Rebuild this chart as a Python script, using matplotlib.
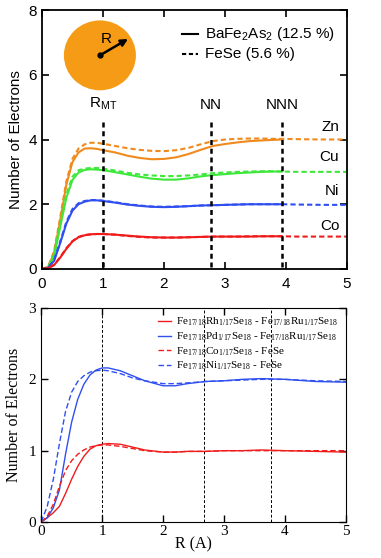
#Two panel plot of the number of electrons inside a sphere of radius R
#around the dopant atom, for BaFe2As2 / FeSe (top) and FeSe supercells (bottom)

import matplotlib.pyplot as plt
from matplotlib.patches import Ellipse

plt.rcParams["mathtext.fontset"] = "custom"
plt.rcParams["mathtext.rm"] = "Liberation Serif"
plt.rcParams["mathtext.it"] = "Liberation Serif:italic"
plt.rcParams["mathtext.sf"] = "Liberation Sans"

#Top panel data (R in Angstrom)
xSolid = [0, 0.1, 0.2, 0.3, 0.4, 0.5, 0.6, 0.7, 0.8, 0.9, 1.0, 1.2, 1.4, 1.6, 1.8,
          2.0, 2.2, 2.4, 2.6, 2.8, 3.0, 3.2, 3.4, 3.6, 3.8, 3.93]
xDash = xSolid + [4.2, 4.6, 5.0]

znSolid = [0, 0.05, 0.5, 1.5, 2.6, 3.3, 3.6, 3.72, 3.73, 3.71, 3.67, 3.6, 3.5, 3.43, 3.39,
           3.4, 3.45, 3.55, 3.68, 3.8, 3.86, 3.91, 3.95, 3.97, 3.99, 4.0]
znDash = [0, 0.07, 0.55, 1.6, 2.7, 3.4, 3.72, 3.85, 3.9, 3.9, 3.87, 3.8, 3.73, 3.68, 3.65,
          3.64, 3.67, 3.74, 3.85, 3.95, 4.0, 4.02, 4.03, 4.03, 4.02, 4.02, 4.01, 4.0, 4.0]
cuSolid = [0, 0.04, 0.4, 1.3, 2.2, 2.75, 2.98, 3.06, 3.08, 3.07, 3.05, 2.99, 2.92, 2.85, 2.79,
           2.76, 2.76, 2.8, 2.86, 2.9, 2.93, 2.96, 2.98, 3.0, 3.01, 3.01]
cuDash = [0, 0.05, 0.45, 1.4, 2.3, 2.85, 3.05, 3.1, 3.12, 3.12, 3.1, 3.04, 2.97, 2.92, 2.89,
          2.87, 2.87, 2.89, 2.92, 2.96, 2.98, 3.0, 3.01, 3.02, 3.02, 3.01, 3.0, 3.0, 3.0]
niSolid = [0, 0.03, 0.25, 0.8, 1.4, 1.8, 2.0, 2.08, 2.12, 2.12, 2.1, 2.05, 1.99, 1.95, 1.92,
           1.91, 1.92, 1.94, 1.96, 1.97, 1.98, 1.99, 2.0, 2.0, 2.0, 2.0]
niDash = [0, 0.03, 0.28, 0.85, 1.45, 1.85, 2.03, 2.1, 2.13, 2.13, 2.11, 2.06, 2.0, 1.96, 1.93,
          1.92, 1.93, 1.94, 1.96, 1.97, 1.98, 1.99, 2.0, 2.0, 2.0, 2.0, 1.99, 1.98, 1.98]
coSolid = [0, 0.02, 0.12, 0.35, 0.62, 0.85, 0.98, 1.04, 1.07, 1.08, 1.08, 1.06, 1.03, 1.0, 0.98,
           0.97, 0.97, 0.98, 0.99, 1.0, 1.0, 1.0, 1.0, 1.01, 1.01, 1.01]
coDash = [0, 0.02, 0.13, 0.37, 0.64, 0.86, 0.99, 1.05, 1.07, 1.08, 1.08, 1.06, 1.02, 0.99, 0.97,
          0.97, 0.97, 0.98, 0.99, 1.0, 1.0, 1.0, 1.01, 1.01, 1.01, 1.01, 1.0, 1.0, 1.0]

elements = ["Zn", "Cu", "Ni", "Co"]
elemY = [4.4, 3.45, 2.4, 1.33]
markers = ["R$_\\mathsf{MT}$", "NN", "NNN"]
markerX = [1.0, 2.77, 3.93]

#Bottom panel data
xB = [0, 0.1, 0.2, 0.3, 0.4, 0.5, 0.6, 0.7, 0.8, 0.9, 1.0, 1.1, 1.3, 1.5, 1.7,
      2.0, 2.2, 2.4, 2.7, 3.0, 3.3, 3.6, 4.0, 4.5, 5.0]
rhRu = [0, 0.06, 0.13, 0.22, 0.4, 0.6, 0.78, 0.92, 1.02, 1.07, 1.09, 1.1, 1.09, 1.05, 1.01,
        0.98, 0.98, 0.99, 0.99, 1.0, 1.0, 1.01, 1.0, 0.99, 0.98]
pdRu = [0, 0.06, 0.2, 0.45, 0.95, 1.4, 1.72, 1.93, 2.06, 2.13, 2.16, 2.16, 2.12, 2.05, 1.98,
        1.91, 1.91, 1.94, 1.97, 1.98, 2.0, 2.01, 2.0, 1.97, 1.96]
coFeSe = [0, 0.08, 0.25, 0.5, 0.72, 0.86, 0.95, 1.01, 1.05, 1.07, 1.08, 1.08, 1.06, 1.03, 1.0,
          0.98, 0.98, 0.99, 0.99, 1.0, 1.0, 1.0, 1.0, 1.0, 1.0]
niFeSe = [0, 0.22, 0.6, 1.1, 1.55, 1.82, 1.97, 2.05, 2.1, 2.12, 2.13, 2.12, 2.08, 2.02, 1.98,
          1.94, 1.94, 1.95, 1.97, 1.98, 1.99, 2.0, 2.0, 1.98, 1.97]
bottomLines = [1.0, 2.67, 3.77]

orange = "#f08a1c"
green = "#3ee83a"
blue = "#2f4ff0"
red = "#f01c1c"

fig = plt.figure(figsize=(3.81, 5.58), dpi=100)

#---------------- top panel ----------------
ax1 = fig.add_axes([0.110, 0.518, 0.801, 0.464])
sans = "Liberation Sans"
cols = [orange, green, blue, red]
solids = [znSolid, cuSolid, niSolid, coSolid]
dashes = [znDash, cuDash, niDash, coDash]
for c, s, d in zip(cols, solids, dashes):
    ax1.plot(xSolid, s, color=c, lw=1.5)
    ax1.plot(xDash, d, color=c, lw=1.5, dashes=(2.5, 1.5))

for x, m in zip(markerX, markers):
    ax1.plot([x, x], [0.05, 4.55], color="black", lw=1.8, dashes=(2, 1.5))
    ax1.text(x, 4.85, m, ha="center", va="bottom", fontsize=11, family=sans)

for e, y in zip(elements, elemY):
    ax1.text(4.87, y, e, ha="right", va="center", fontsize=11, family=sans)

#inset: sphere of radius R
ax1.add_patch(Ellipse((0.95, 6.6), 1.18, 2.16, color="#f59b16", lw=0))
ax1.plot([0.95], [6.6], "ko", ms=3.5)
ax1.annotate("", xy=(1.45, 7.15), xytext=(0.95, 6.6),
             arrowprops=dict(arrowstyle="-|>", color="black", lw=1.8, mutation_scale=10))
ax1.text(1.05, 7.1, "R", ha="center", va="center", fontsize=11, family=sans)

#legend drawn by hand
ax1.plot([2.3, 2.55], [7.25, 7.25], color="black", lw=1.5)
ax1.plot([2.3, 2.55], [6.65, 6.65], color="black", lw=1.5, dashes=(2, 1.3))
ax1.text(2.67, 7.25, "BaFe$_\\mathsf{2}$As$_\\mathsf{2}$ (12.5 %)", va="center",
         fontsize=11, family=sans)
ax1.text(2.67, 6.65, "FeSe (5.6 %)", va="center", fontsize=11, family=sans)

ax1.set_xlim(0, 5)
ax1.set_ylim(0, 8)
ax1.set_yticks([0, 2, 4, 6, 8])
ax1.set_xticks([0, 1, 2, 3, 4, 5])
ax1.tick_params(direction="in", top=True, right=True, length=5, width=1.2, labelsize=11)
ax1.tick_params(axis="x", pad=6)
for lab in ax1.get_xticklabels() + ax1.get_yticklabels():
    lab.set_family(sans)
ax1.set_ylabel("Number of Electrons", fontsize=11, family=sans, labelpad=4)
for sp in ax1.spines.values():
    sp.set_linewidth(1.3)

#---------------- bottom panel ----------------
serif = "Liberation Serif"
ax2 = fig.add_axes([0.108, 0.0645, 0.800, 0.3835])
for x in bottomLines:
    ax2.axvline(x, color="black", lw=0.7, dashes=(3, 2))
ax2.plot(xB, rhRu, color=red, lw=1.0,
         label="Fe$_{17/18}$Rh$_{1/17}$Se$_{18}$ - Fe$_{17/18}$Ru$_{1/17}$Se$_{18}$")
ax2.plot(xB, pdRu, color=blue, lw=1.0,
         label="Fe$_{17/18}$Pd$_{1/17}$Se$_{18}$ - Fe$_{17/18}$Ru$_{1/17}$Se$_{18}$")
ax2.plot(xB, coFeSe, color=red, lw=1.0, dashes=(4, 2),
         label="Fe$_{17/18}$Co$_{1/17}$Se$_{18}$ - FeSe")
ax2.plot(xB, niFeSe, color=blue, lw=1.0, dashes=(4, 2),
         label="Fe$_{17/18}$Ni$_{1/17}$Se$_{18}$ - FeSe")

leg = ax2.legend(loc="upper right", frameon=False, prop={"family": serif, "size": 8},
                 handlelength=1.1, handletextpad=0.5, labelspacing=0.2,
                 borderaxespad=0.3, borderpad=0.4)

ax2.set_xlim(0, 5)
ax2.set_ylim(0, 3)
ax2.set_xticks([0, 1, 2, 3, 4, 5])
ax2.set_yticks([0, 1, 2, 3])
ax2.tick_params(direction="in", top=True, right=True, length=5, width=1.0, labelsize=11)
ax2.tick_params(axis="x", pad=2)
for lab in ax2.get_xticklabels() + ax2.get_yticklabels():
    lab.set_family(serif)
ax2.set_xlabel("R (A)", fontsize=11.5, family=serif, labelpad=-1)
ax2.set_ylabel("Number of Electrons", fontsize=11.5, family=serif, labelpad=5)

fig.savefig("out.png", dpi=100)
